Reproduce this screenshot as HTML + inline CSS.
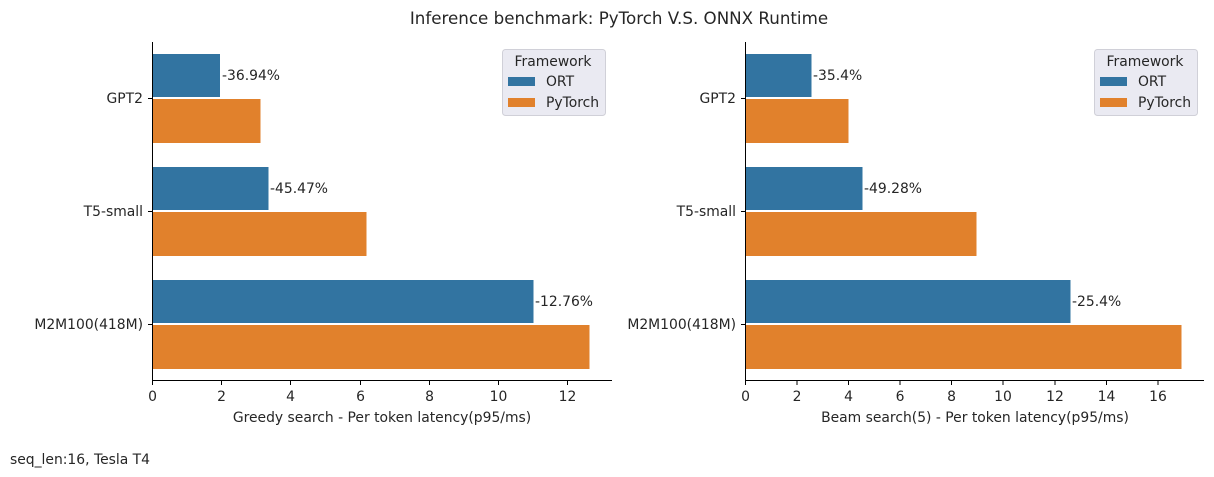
<!DOCTYPE html>
<html><head><style>body{margin:0;background:#fff}svg{display:block}text{font-family:"DejaVu Sans","Liberation Sans",sans-serif;fill:#262626}</style></head><body>
<svg width="1214" height="477" viewBox="0 0 1214 477" xmlns="http://www.w3.org/2000/svg">
<text x="619" y="24" font-size="16.7" text-anchor="middle">Inference benchmark: PyTorch V.S. ONNX Runtime</text>
<text x="10" y="464" font-size="13.9">seq_len:16, Tesla T4</text>
<g fill="#3274a1" stroke="#fff" stroke-width="1">
<rect x="152" y="53.5" width="68.5" height="44"/>
<rect x="152" y="166.5" width="117" height="44"/>
<rect x="152" y="279.5" width="382" height="44"/>
<rect x="745" y="53.5" width="67" height="44"/>
<rect x="745" y="166.5" width="118" height="44"/>
<rect x="745" y="279.5" width="326" height="44"/>
</g>
<g fill="#e1812c" stroke="#fff" stroke-width="1">
<rect x="152" y="98.5" width="109" height="45"/>
<rect x="152" y="211.5" width="215" height="45"/>
<rect x="152" y="324.5" width="438" height="45"/>
<rect x="745" y="98.5" width="104" height="45"/>
<rect x="745" y="211.5" width="232" height="45"/>
<rect x="745" y="324.5" width="437" height="45"/>
</g>
<g stroke="#000" stroke-width="1" fill="none">
<path d="M152.5 42V380.5H612"/>
<path d="M745.5 42V380.5H1204"/>
<path d="M152.5 381v4M221.5 381v4M290.5 381v4M360.5 381v4M429.5 381v4M498.5 381v4M567.5 381v4"/>
<path d="M745.5 381v4M797 381v4M848.5 381v4M900 381v4M951.5 381v4M1003 381v4M1055 381v4M1106.5 381v4M1158 381v4"/>
<path d="M148 98.5h4M148 211.5h4M148 324.5h4M741 98.5h4M741 211.5h4M741 324.5h4"/>
</g>
<g font-size="13.9" text-anchor="middle">
<text x="152.5" y="401">0</text><text x="221.5" y="401">2</text><text x="290.5" y="401">4</text><text x="360.5" y="401">6</text><text x="429.5" y="401">8</text><text x="498.5" y="401">10</text><text x="567.5" y="401">12</text>
<text x="745.5" y="401">0</text><text x="797" y="401">2</text><text x="848.5" y="401">4</text><text x="900" y="401">6</text><text x="951.5" y="401">8</text><text x="1003" y="401">10</text><text x="1055" y="401">12</text><text x="1106.5" y="401">14</text><text x="1158" y="401">16</text>
<text x="382" y="422">Greedy search - Per token latency(p95/ms)</text>
<text x="975" y="422">Beam search(5) - Per token latency(p95/ms)</text>
</g>
<g font-size="13.9" text-anchor="end">
<text x="143" y="103">GPT2</text><text x="143" y="216">T5-small</text><text x="143" y="329">M2M100(418M)</text>
<text x="736" y="103">GPT2</text><text x="736" y="216">T5-small</text><text x="736" y="329">M2M100(418M)</text>
</g>
<g font-size="13.9">
<text x="222" y="80">-36.94%</text><text x="270" y="193">-45.47%</text><text x="535" y="306">-12.76%</text>
<text x="813" y="80">-35.4%</text><text x="864" y="193">-49.28%</text><text x="1072" y="306">-25.4%</text>
</g>
<g>
<rect x="502.5" y="49.5" width="103" height="66" rx="3" fill="#eaeaf2" stroke="#d0d0d8"/>
<text x="553" y="66" font-size="13.9" text-anchor="middle">Framework</text>
<rect x="508" y="77" width="27" height="9" fill="#3274a1"/>
<rect x="508" y="98" width="27" height="9" fill="#e1812c"/>
<text x="546" y="86" font-size="13.9">ORT</text><text x="546" y="107" font-size="13.9">PyTorch</text>
<rect x="1094.5" y="49.5" width="103" height="66" rx="3" fill="#eaeaf2" stroke="#d0d0d8"/>
<text x="1145" y="66" font-size="13.9" text-anchor="middle">Framework</text>
<rect x="1100" y="77" width="27" height="9" fill="#3274a1"/>
<rect x="1100" y="98" width="27" height="9" fill="#e1812c"/>
<text x="1138" y="86" font-size="13.9">ORT</text><text x="1138" y="107" font-size="13.9">PyTorch</text>
</g>
</svg>
</body></html>
